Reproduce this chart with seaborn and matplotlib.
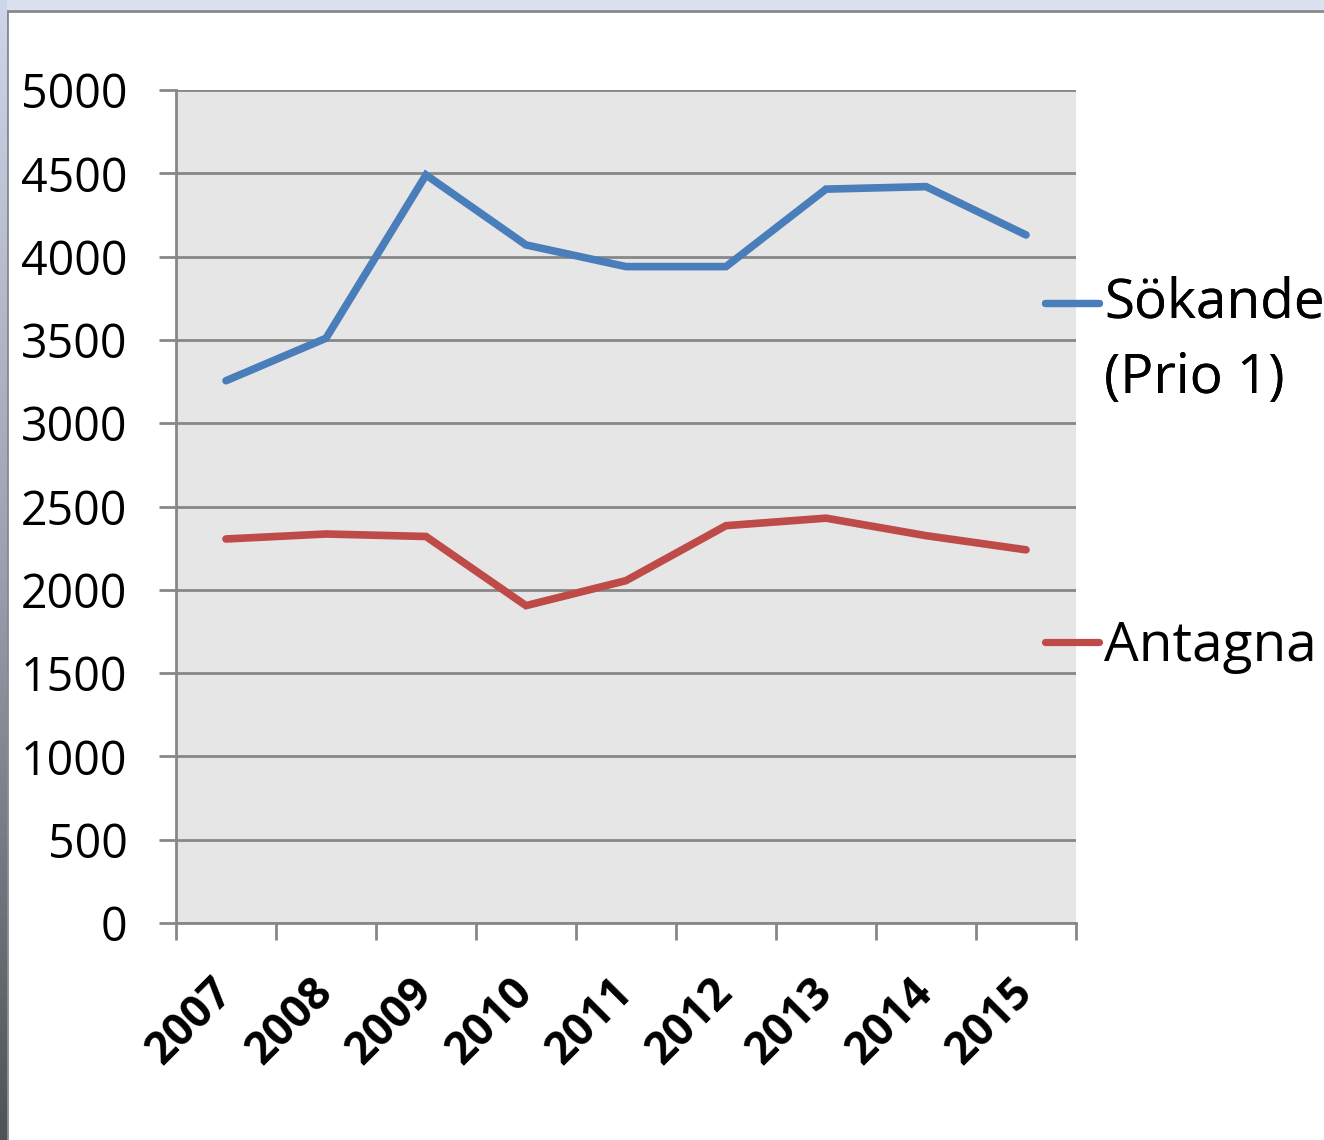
import numpy as np
import pandas as pd
import matplotlib
matplotlib.use("Agg")
import matplotlib.pyplot as plt
from matplotlib.patches import Rectangle
from matplotlib.lines import Line2D
from matplotlib.legend_handler import HandlerLine2D
from matplotlib.colors import LinearSegmentedColormap
from matplotlib.transforms import ScaledTranslation
import seaborn as sns

years = ["2007", "2008", "2009", "2010", "2011", "2012", "2013", "2014", "2015"]
sokande = [3255, 3510, 4490, 4070, 3940, 3940, 4405, 4420, 4130]
antagna = [2305, 2335, 2320, 1905, 2055, 2385, 2430, 2325, 2240]
series_names = ["Sökande\n(Prio 1)", "Antagna"]
colors = ["#4a7ebb", "#be4b48"]
yticks = [0, 500, 1000, 1500, 2000, 2500, 3000, 3500, 4000, 4500, 5000]

df = pd.DataFrame({
    "year": years * 2,
    "x": list(range(len(years))) * 2,
    "value": sokande + antagna,
    "series": [series_names[0]] * len(years) + [series_names[1]] * len(years),
})

sns.set_style("white")
plt.rcParams["font.family"] = ["Open Sans", "DejaVu Sans"]
plt.rcParams["text.color"] = "black"
plt.rcParams["xtick.labelcolor"] = "black"
plt.rcParams["ytick.labelcolor"] = "black"

W, H = 1324, 1140
fig = plt.figure(figsize=(W / 100, H / 100), dpi=100)
fig.patch.set_facecolor("#dbe1f1")

# white frame
fig.patches.append(Rectangle((7 / W, -0.01), 1.0, 1 - 11 / H + 0.01, transform=fig.transFigure,
                             facecolor="white", edgecolor="#8a8a8a", linewidth=2, zorder=-5))

# left gradient strip
gax = fig.add_axes([0, 0, 6 / W, 1])
gax.set_zorder(-4)
grad = np.linspace(0, 1, 256).reshape(-1, 1)
cmap = LinearSegmentedColormap.from_list("g", ["#cfd6ea", "#9aa0b0", "#4f5256"])
gax.imshow(grad, aspect="auto", cmap=cmap, origin="upper")
gax.set_axis_off()

ax = fig.add_axes([176 / W, 1 - 923 / H, 900 / W, 833 / H])
ax.set_zorder(1)
ax.set_facecolor("#e6e6e6")

sns.lineplot(data=df, x="x", y="value", hue="series", palette=colors, linewidth=5.5,
             ax=ax, legend=False, solid_capstyle="round", solid_joinstyle="miter")

ax.set_xlim(-0.5, len(years) - 0.5)
ax.set_ylim(0, 5000)
ax.set_yticks(yticks)
ax.set_yticklabels([str(v) for v in yticks])
ax.yaxis.grid(True, color="#878787", linewidth=2)
ax.set_axisbelow(True)

ax.set_xticks(range(len(years)))
ax.set_xticklabels(years, rotation=45, ha="right", rotation_mode="anchor",
                   fontweight="bold", fontsize=32)
ax.set_xticks(np.arange(-0.5, len(years), 1.0), minor=True)
ax.tick_params(axis="x", which="major", length=0, pad=34, bottom=True)
ax.tick_params(axis="x", which="minor", length=12, width=2, color="#878787", direction="out", bottom=True)
ax.tick_params(axis="y", length=12, width=2, color="#878787", pad=23, labelsize=33.5, direction="out", left=True)
ax.set_xlabel("")
ax.set_ylabel("")
off = ScaledTranslation(-16 / 100, 0, fig.dpi_scale_trans)
for lbl in ax.get_xticklabels():
    lbl.set_transform(lbl.get_transform() + off)

for s in ["top", "right"]:
    ax.spines[s].set_visible(False)
for s in ["left", "bottom"]:
    ax.spines[s].set_color("#878787")
    ax.spines[s].set_linewidth(2)


class UpHandler(HandlerLine2D):
    def __init__(self, offset, **kw):
        super().__init__(**kw)
        self.offset = offset

    def create_artists(self, legend, orig_handle, xdescent, ydescent, width, height, fontsize, trans):
        arts = super().create_artists(legend, orig_handle, xdescent, ydescent, width, height, fontsize, trans)
        for a in arts:
            a.set_ydata(np.asarray(a.get_ydata()) + self.offset)
        return arts


h1 = Line2D([], [], color=colors[0], linewidth=5.2, solid_capstyle="round")
h2 = Line2D([], [], color=colors[1], linewidth=5.2, solid_capstyle="round")
leg1 = fig.legend([h1], [series_names[0]], loc="upper left", bbox_to_anchor=(1045 / W, 1 - 276 / H),
                  frameon=False, fontsize=39.5, handlelength=0.98, handletextpad=0.1,
                  borderpad=0, borderaxespad=0, handler_map={h1: UpHandler(29)})
for t in leg1.get_texts():
    t.set_linespacing(1.48)
leg2 = fig.legend([h2], [series_names[1]], loc="upper left", bbox_to_anchor=(1045 / W, 1 - 619 / H),
                  frameon=False, fontsize=39.5, handlelength=0.98, handletextpad=0.1,
                  borderpad=0, borderaxespad=0)
fig.add_artist(leg1)

fig.savefig("out.png", dpi=100, facecolor=fig.get_facecolor())
